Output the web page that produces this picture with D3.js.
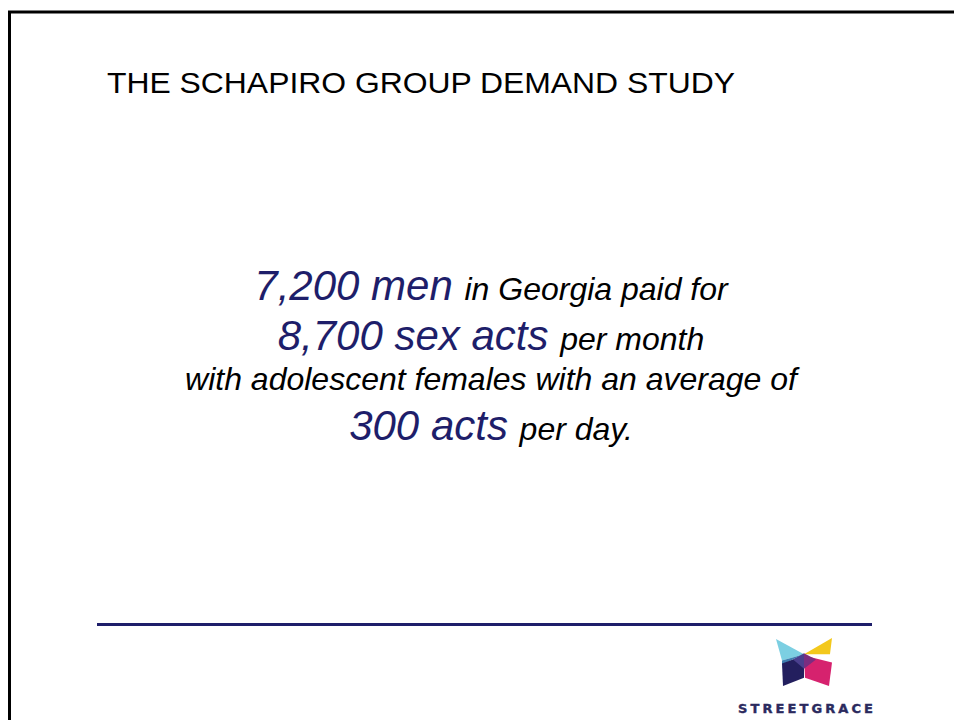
<!DOCTYPE html>
<html>
<head>
<meta charset="utf-8">
<script src="https://cdn.jsdelivr.net/npm/d3@7"></script>
<style>
  html, body { margin: 0; padding: 0; background: #fff; overflow: hidden; }
  svg { display: block; }
</style>
</head>
<body>
<svg id="slide"></svg>
<script>
// slide text
const titleText = "THE SCHAPIRO GROUP DEMAND STUDY";
const bigWords = ["7,200 men", "8,700 sex acts", "", "300 acts"];
const smallWords = ["in Georgia paid for", "per month", "with adolescent females with an average of", "per day."];
const brandName = "STREETGRACE";

// logo pieces (local units of the mark, 0..56 x 0..48)
const logoPieces = [
  { color: "#7ccfe2", pts: [[0, 2], [28, 17], [6, 23]] },
  { color: "#3f7fb0", pts: [[6, 23], [28, 17], [6, 27]] },
  { color: "#f3c81c", pts: [[56, 1], [54, 17], [28, 17]] },
  { color: "#231f5e", pts: [[6, 26], [28, 18], [28, 40], [7, 48]] },
  { color: "#d6226e", pts: [[56, 25], [28, 18], [29, 40], [53, 48]] },
  { color: "#4a3f8e", pts: [[17, 22], [28, 16], [28, 31]] },
  { color: "#7a2d80", pts: [[28, 16], [40, 22], [28, 31]] }
];

const width = 954, height = 720;
const navy = "#1e1e6a";

const svg = d3.select("#slide")
  .attr("width", width)
  .attr("height", height);

// slide frame - only top and left edges fall inside the page
svg.append("path")
  .attr("d", `M9.5,${height + 5} V12 H${width + 5}`)
  .attr("fill", "none")
  .attr("stroke", "#000")
  .attr("stroke-width", 3);

// title
svg.append("text")
  .attr("x", 107).attr("y", 93)
  .attr("font-family", "Liberation Sans, Arial, sans-serif")
  .attr("font-size", 30)
  .attr("textLength", 628)
  .attr("lengthAdjust", "spacingAndGlyphs")
  .attr("fill", "#000")
  .text(titleText);

// body lines - baselines stacked by line height
const bigSize = 42, smallSize = 32;
const lineHeights = bigWords.map(b => b ? 50 : 40);
const baselines = [];
let acc = 300;
lineHeights.forEach((h, i) => { if (i > 0) acc += h; baselines.push(acc); });
const yScale = d3.scaleOrdinal().domain(d3.range(bigWords.length)).range(baselines);

const body = svg.append("g")
  .attr("font-family", "Liberation Sans, Arial, sans-serif")
  .attr("font-style", "italic");

const lines = body.selectAll("text.line")
  .data(d3.range(bigWords.length))
  .join("text")
  .attr("class", "line")
  .attr("x", 491)
  .attr("y", i => yScale(i))
  .attr("text-anchor", "middle");

lines.filter(i => bigWords[i])
  .append("tspan")
  .attr("font-size", bigSize)
  .attr("fill", navy)
  .text(i => bigWords[i] + " ");

lines.append("tspan")
  .attr("font-size", smallSize)
  .attr("fill", "#000")
  .text(i => smallWords[i]);

// divider rule
const xRule = d3.scaleLinear().domain([0, 1]).range([97, 872]);
svg.append("line")
  .attr("x1", xRule(0)).attr("x2", xRule(1))
  .attr("y1", 624.5).attr("y2", 624.5)
  .attr("stroke", navy)
  .attr("stroke-width", 3);

// logo mark
const lx = d3.scaleLinear().domain([0, 56]).range([776, 832]);
const ly = d3.scaleLinear().domain([0, 48]).range([637, 686]);
const logo = svg.append("g");
logo.selectAll("polygon")
  .data(logoPieces)
  .join("polygon")
  .attr("points", d => d.pts.map(p => [lx(p[0]), ly(p[1])].join(",")).join(" "))
  .attr("fill", d => d.color);

svg.append("text")
  .attr("x", 738).attr("y", 713)
  .attr("font-family", "DejaVu Sans, Verdana, sans-serif")
  .attr("font-weight", "bold")
  .attr("font-size", 13)
  .attr("textLength", 135)
  .attr("lengthAdjust", "spacing")
  .attr("fill", "#2b2a5e")
  .attr("stroke", "#2b2a5e")
  .attr("stroke-width", 0.4)
  .text(brandName);
</script>
</body>
</html>
